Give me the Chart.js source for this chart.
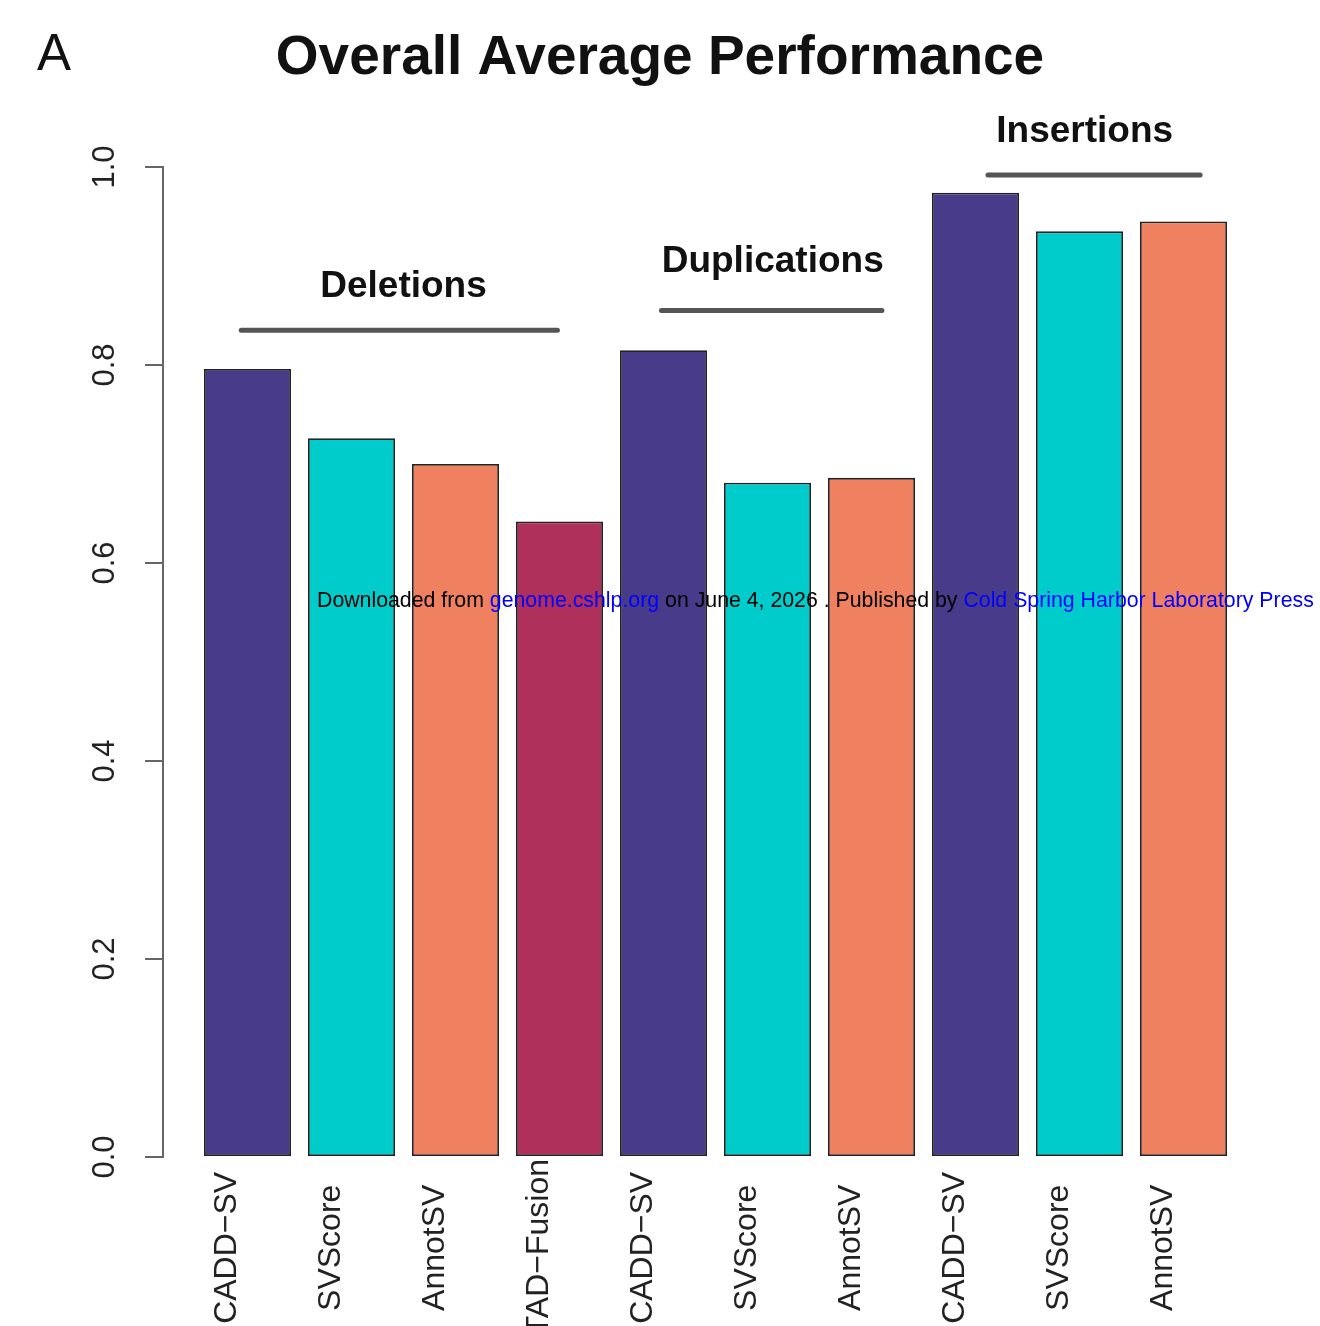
<!DOCTYPE html>
<html>
<head>
<meta charset="utf-8">
<script src="https://cdn.jsdelivr.net/npm/chart.js@4/dist/chart.umd.min.js"></script>
<style>
  html, body { margin: 0; padding: 0; background: #fff; }
  #wrap { width: 1320px; height: 1326px; position: relative; }
</style>
</head>
<body>
<div id="wrap"><canvas id="chart"></canvas></div>
<script>
// Tools scored per structural-variant class
const methods = ['CADD\u2212SV', 'SVScore', 'AnnotSV', 'TAD\u2212Fusion',
                 'CADD\u2212SV', 'SVScore', 'AnnotSV',
                 'CADD\u2212SV', 'SVScore', 'AnnotSV'];
const svClass = ['Deletions', 'Deletions', 'Deletions', 'Deletions',
                 'Duplications', 'Duplications', 'Duplications',
                 'Insertions', 'Insertions', 'Insertions'];
const performance = [0.796, 0.726, 0.700, 0.642, 0.815, 0.681, 0.686, 0.974, 0.935, 0.945];
const yTicks = [0.0, 0.2, 0.4, 0.6, 0.8, 1.0];
const groupNames = ['Deletions', 'Duplications', 'Insertions'];

// Fill colour per tool
const toolColour = {
  'CADD\u2212SV': '#483B89',
  'SVScore': '#00CCCC',
  'AnnotSV': '#EF8060',
  'TAD\u2212Fusion': '#B0305C'
};

// Bracket + label placement above each group (x in bar-index units, y in score units)
const bracketLayout = {
  Deletions:    { x0: -0.06, x1: 2.98, lineY: 0.835, textX: 1.50, textY: 0.879 },
  Duplications: { x0: 3.98,  x1: 6.10, lineY: 0.855, textX: 5.05, textY: 0.904 },
  Insertions:   { x0: 7.12,  x1: 9.16, lineY: 0.992, textX: 8.05, textY: 1.036 }
};

const labelShift = -0.2; // rotated labels sit slightly left of bar centres
const FONT = '"Liberation Sans", Arial, Helvetica, sans-serif';
const X_LABEL_FONT = { family: FONT, size: 32 };
const X_LABEL_PAD = 2;        // gap between axis bottom and label anchor
const X_LABEL_MID = 93;       // rotated labels are centred this far below the axis

// Rotated tick labels are end-anchored by Chart.js; pad them with thin spaces
// so every label ends up centred on the same line below the axis.
const measureCtx = document.createElement('canvas').getContext('2d');
function centredLabel(text) {
  measureCtx.font = X_LABEL_FONT.size + 'px ' + FONT;
  const w = measureCtx.measureText(text).width;
  const wanted = X_LABEL_MID - X_LABEL_PAD - w / 2;
  let out = text;
  while (measureCtx.measureText(out + '\u2009').width - w <= wanted) out += '\u2009';
  return out;
}

const groupBrackets = {
  id: 'groupBrackets',
  afterDatasetsDraw(chart) {
    const { ctx, scales: { x, y } } = chart;
    ctx.save();
    groupNames.forEach(name => {
      const g = bracketLayout[name];
      ctx.strokeStyle = '#555555';
      ctx.lineWidth = 5;
      ctx.lineCap = 'round';
      ctx.beginPath();
      ctx.moveTo(x.getPixelForValue(g.x0), y.getPixelForValue(g.lineY));
      ctx.lineTo(x.getPixelForValue(g.x1), y.getPixelForValue(g.lineY));
      ctx.stroke();
      ctx.fillStyle = '#111111';
      ctx.font = 'bold 37px ' + FONT;
      ctx.textAlign = 'center';
      ctx.textBaseline = 'middle';
      ctx.fillText(name, x.getPixelForValue(g.textX), y.getPixelForValue(g.textY));
    });
    ctx.restore();
  }
};

const panelAndSource = {
  id: 'panelAndSource',
  afterDraw(chart) {
    const ctx = chart.ctx;
    ctx.save();
    // panel letter
    ctx.fillStyle = '#111111';
    ctx.font = '51px ' + FONT;
    ctx.textAlign = 'left';
    ctx.textBaseline = 'alphabetic';
    ctx.fillText('A', 37, 70);
    // download note across the plot
    const parts = [
      ['Downloaded from ', '#000000'],
      ['genome.cshlp.org', '#0000FF'],
      [' on June 4, 2026 . Published by ', '#000000'],
      ['Cold Spring Harbor Laboratory Press', '#0000FF']
    ];
    ctx.font = '21.3px ' + FONT;
    ctx.textBaseline = 'middle';
    let px = 317;
    parts.forEach(([t, c]) => {
      ctx.fillStyle = c;
      ctx.fillText(t, px, 601);
      px += ctx.measureText(t).width;
    });
    ctx.restore();
  }
};

new Chart(document.getElementById('chart'), {
  type: 'bar',
  data: {
    datasets: [{
      label: 'Overall average performance',
      data: performance.map((v, i) => ({ x: i, y: v })),
      backgroundColor: methods.map(m => toolColour[m]),
      borderColor: '#222222',
      borderWidth: 1.8,
      borderSkipped: false,
      categoryPercentage: 1.0,
      barPercentage: 0.837
    }]
  },
  options: {
    responsive: true,
    maintainAspectRatio: false,
    animation: false,
    layout: { padding: 0 },
    plugins: {
      legend: { display: false },
      tooltip: { enabled: false },
      title: {
        display: true,
        text: 'Overall Average Performance',
        color: '#111111',
        font: { family: FONT, size: 55, weight: 'bold', lineHeight: 1.2 },
        padding: { top: 26, bottom: 75 }
      }
    },
    scales: {
      x: {
        type: 'linear',
        offset: false,
        bounds: 'data',
        min: -0.8125,
        max: 10.3125,
        grid: { display: false, drawTicks: false, offset: false },
        border: { display: false },
        afterBuildTicks(scale) {
          scale.ticks = methods.map((_, i) => ({ value: i + labelShift }));
        },
        afterFit(scale) {
          scale.height = 169;
          scale.paddingLeft = 0;
          scale.paddingRight = 0;
        },
        ticks: {
          autoSkip: false,
          minRotation: 90,
          maxRotation: 90,
          padding: X_LABEL_PAD,
          color: '#222222',
          font: X_LABEL_FONT,
          callback: (value, index) => centredLabel(methods[index])
        }
      },
      y: {
        min: 0,
        max: 1,
        afterBuildTicks(scale) {
          scale.ticks = yTicks.map(v => ({ value: v }));
        },
        afterFit(scale) {
          scale.width = 163;
          scale.paddingTop = 0;
          scale.paddingBottom = 0;
        },
        grid: {
          drawOnChartArea: false,
          drawTicks: true,
          tickLength: 18,
          color: '#666666',
          lineWidth: 2
        },
        border: { display: true, color: '#666666', width: 2 },
        ticks: {
          minRotation: 90,
          maxRotation: 90,
          crossAlign: 'center',
          padding: 18,
          color: '#222222',
          font: { family: FONT, size: 31 },
          callback: v => v.toFixed(1)
        }
      }
    }
  },
  plugins: [groupBrackets, panelAndSource]
});
</script>
</body>
</html>
